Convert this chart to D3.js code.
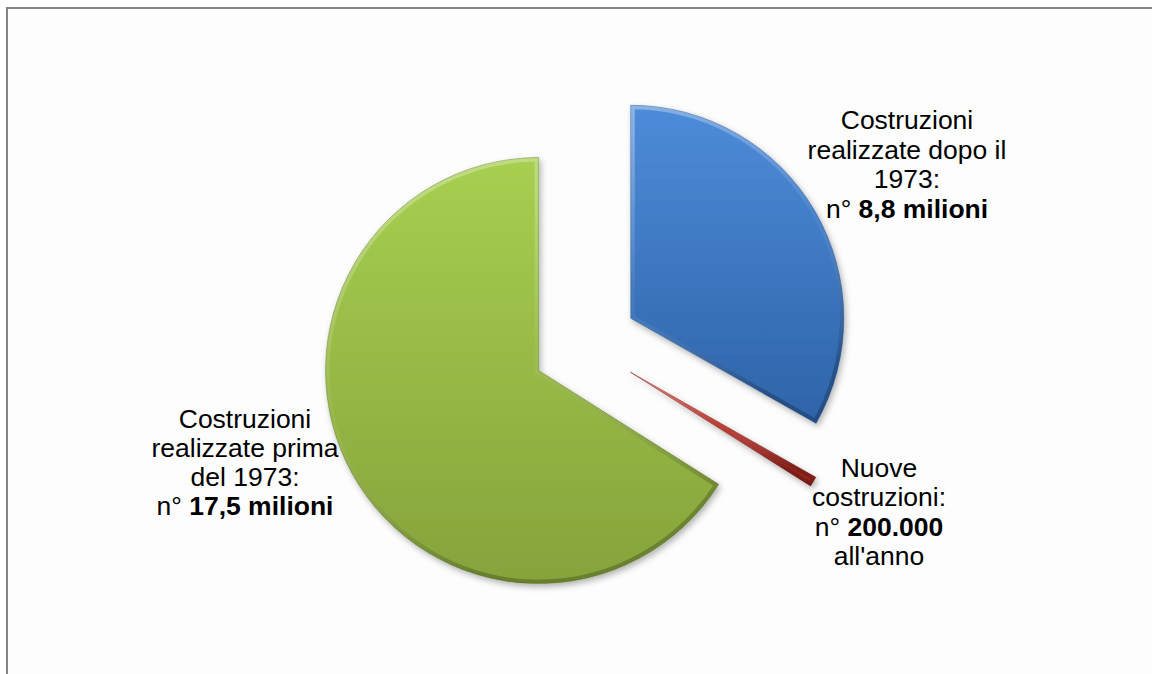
<!DOCTYPE html>
<html>
<head>
<meta charset="utf-8">
<script src="https://cdn.jsdelivr.net/npm/d3@7"></script>
<style>
  html, body { margin: 0; padding: 0; background: #ffffff; }
  svg { display: block; }
</style>
</head>
<body>
<script>
const width = 1152;
const height = 674;

// data
const categories = ["Costruzioni realizzate dopo il 1973", "Nuove costruzioni", "Costruzioni realizzate prima del 1973"];
const values = [8.8, 0.2, 17.5];

// label text, one entry per line: [plain part, bold part]
const labelLines = [
  [["Costruzioni", ""], ["realizzate dopo il", ""], ["1973:", ""], ["n° ", "8,8 milioni"]],
  [["Nuove", ""], ["costruzioni:", ""], ["n° ", "200.000"], ["all'anno", ""]],
  [["Costruzioni", ""], ["realizzate prima", ""], ["del 1973:", ""], ["n°  ", "17,5 milioni"]]
];

// styles
const topColors = ["#4d8cd9", "#d0443c", "#a7cf50"];
const bottomColors = ["#2e63a8", "#9a231c", "#86a33b"];
const edgeColors = ["#24508c", "#7a1612", "#5f7a25"];
const labelX = [907, 879, 245];
const labelY = [129, 477, 428];
const lineHeight = [29.7, 29.3, 29];

const cx = 585, cy = 345;
const radius = 213;
const explode = 53;

const svg = d3.select("body")
  .append("svg")
    .attr("width", width)
    .attr("height", height);

const defs = svg.append("defs");

const shadow = defs.append("filter")
    .attr("id", "shadow")
    .attr("x", "-20%").attr("y", "-20%")
    .attr("width", "140%").attr("height", "140%");
shadow.append("feDropShadow")
    .attr("dx", 2).attr("dy", 3)
    .attr("stdDeviation", 3)
    .attr("flood-color", "#000")
    .attr("flood-opacity", 0.3);

values.forEach(function(v, i) {
  const g = defs.append("linearGradient")
      .attr("id", "grad" + i)
      .attr("x1", 0).attr("y1", 0)
      .attr("x2", 0).attr("y2", 1);
  g.append("stop").attr("offset", "0%").attr("stop-color", topColors[i]);
  g.append("stop").attr("offset", "100%").attr("stop-color", bottomColors[i]);
});

// bevel rim: light on top, darker below
const rim = defs.append("linearGradient")
    .attr("id", "rim")
    .attr("x1", 0).attr("y1", 0)
    .attr("x2", 0.3).attr("y2", 1);
rim.append("stop").attr("offset", "0%").attr("stop-color", "#fff").attr("stop-opacity", 0.35);
rim.append("stop").attr("offset", "55%").attr("stop-color", "#fff").attr("stop-opacity", 0.05);
rim.append("stop").attr("offset", "100%").attr("stop-color", "#000").attr("stop-opacity", 0.22);

// frame
svg.append("rect")
    .attr("x", 7).attr("y", 8)
    .attr("width", width + 10).attr("height", height + 10)
    .attr("fill", "#fdfdfd")
    .attr("stroke", "#858585")
    .attr("stroke-width", 2);

const pie = d3.pie()
    .sort(null)
    .value(function(d) { return d; });

const arc = d3.arc()
    .innerRadius(0)
    .outerRadius(radius);

const arcs = pie(values);

arcs.forEach(function(d, i) {
  defs.append("clipPath")
      .attr("id", "clip" + i)
    .append("path")
      .attr("d", arc(d));
});

const slices = svg.append("g")
    .attr("transform", "translate(" + cx + "," + cy + ")");

const slice = slices.selectAll("g")
  .data(arcs)
  .enter()
  .append("g")
    .attr("transform", function(d) {
      const a = (d.startAngle + d.endAngle) / 2;
      return "translate(" + (explode * Math.sin(a)) + "," + (-explode * Math.cos(a)) + ")";
    });

slice.append("path")
    .attr("d", arc)
    .attr("fill", function(d, i) { return "url(#grad" + i + ")"; })
    .attr("stroke", function(d, i) { return edgeColors[i]; })
    .attr("stroke-width", 1)
    .attr("stroke-opacity", 0.5)
    .attr("filter", "url(#shadow)");

slice.append("path")
    .attr("d", arc)
    .attr("fill", "none")
    .attr("stroke", "url(#rim)")
    .attr("stroke-width", 8)
    .attr("clip-path", function(d, i) { return "url(#clip" + i + ")"; });

// labels
labelLines.forEach(function(lines, i) {
  const t = svg.append("text")
      .attr("text-anchor", "middle")
      .attr("font-family", "Liberation Sans, Arial, sans-serif")
      .attr("font-size", 25)
      .attr("fill", "#000")
      .attr("transform", "translate(" + labelX[i] + ",0) scale(1.06,1)");
  lines.forEach(function(line, j) {
    const y = labelY[i] + j * lineHeight[i];
    const ts = t.append("tspan").attr("x", 0).attr("y", y);
    ts.append("tspan").text(line[0]);
    if (line[1]) ts.append("tspan").attr("font-weight", "bold").text(line[1]);
  });
});
</script>
</body>
</html>
